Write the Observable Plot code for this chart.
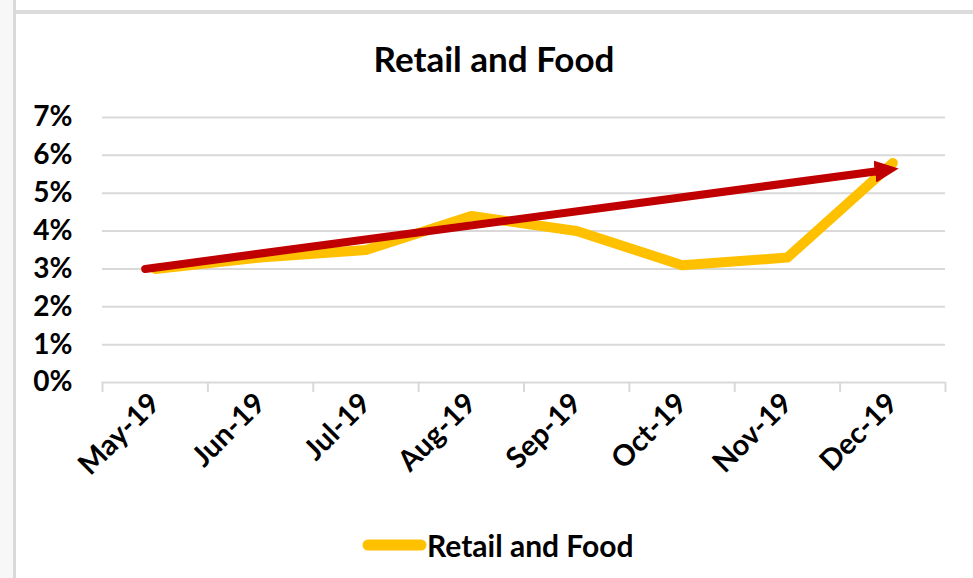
<!DOCTYPE html>
<html><head><meta charset="utf-8">
<script src="https://cdn.jsdelivr.net/npm/d3@7"></script>
<script src="https://cdn.jsdelivr.net/npm/@observablehq/plot@0.6"></script>
<style>
body{margin:0;background:#fff;font-family:Lato,"Open Sans",sans-serif;}
#page{position:relative;width:973px;height:578px;overflow:hidden;background:#fff;}
#leftstrip{position:absolute;left:0;top:0;width:13px;height:578px;background:#f7f7f7;}
#leftline{position:absolute;left:13px;top:0;width:3px;height:578px;background:#d9d9d9;}
#topline{position:absolute;left:16px;top:10px;width:957px;height:4px;background:#dcdcdc;}
#title{position:absolute;left:15px;width:958px;top:38px;text-align:center;font-weight:700;font-size:35px;line-height:40px;color:#000;}
#chart{position:absolute;left:0;top:90px;}
#legend{position:absolute;left:362px;top:530px;height:30px;display:flex;align-items:center;font-weight:700;font-size:30px;line-height:30px;color:#000;}
</style></head>
<body>
<div id="page">
  <div id="leftstrip"></div><div id="leftline"></div><div id="topline"></div>
  <div id="title">Retail and Food</div>
  <div id="chart"></div>
  <div id="legend"><svg width="65" height="14"><line x1="6" y1="7" x2="59" y2="7" stroke="#FFC000" stroke-width="11" stroke-linecap="round"/></svg><span>Retail and Food</span></div>
</div>
<script>
const months = ["May-19","Jun-19","Jul-19","Aug-19","Sep-19","Oct-19","Nov-19","Dec-19"];
const retailFood = [3.0, 3.3, 3.5, 4.4, 4.0, 3.1, 3.3, 5.8];
const trendMonths = ["May-19","Dec-19"];
const trendValues = [3.0, 5.6];
const yTicks = [0,1,2,3,4,5,6,7];

const data = months.map((m,i)=>({i, month:m, v:retailFood[i]}));
const trend = trendMonths.map((m,k)=>({i:months.indexOf(m), v:trendValues[k]}));
const boundaries = d3.range(months.length+1).map(k=>k-0.5);

function arrowHead(color, context){
  return d3.create("svg:marker")
    .attr("viewBox","0 -11 24 22")
    .attr("markerUnits","userSpaceOnUse")
    .attr("markerWidth",24)
    .attr("markerHeight",22)
    .attr("refX",8)
    .attr("refY",0)
    .attr("orient","auto")
    .attr("fill",color)
    .attr("stroke","none")
    .call(m=>m.append("path").attr("d","M0,-11L24,0L0,11Z"))
    .node();
}

const chart = Plot.plot({
  width:973, height:402,
  marginLeft:102, marginRight:28, marginTop:27, marginBottom:110,
  x:{type:"linear", domain:[-0.5, months.length-0.5]},
  y:{domain:[0,7]},
  style:{fontFamily:"Lato, 'Open Sans', sans-serif", color:"#000", background:"transparent", overflow:"visible"},
  marks:[
    Plot.ruleY(yTicks, {stroke:"#d9d9d9", strokeWidth:2, strokeOpacity:1}),
    Plot.axisY({ticks:yTicks, tickSize:0, tickPadding:30, tickFormat:d=>d+"%", fontSize:28, fontWeight:700, label:null}),
    Plot.axisX({ticks:boundaries, tickSize:10, tickFormat:()=>"", stroke:"#d9d9d9", strokeWidth:2, label:null}),
    Plot.axisX({ticks:d3.range(months.length), tickSize:0, tickPadding:16, tickRotate:-45, tickFormat:i=>months[i], fontSize:29, fontWeight:700, label:null}),
    Plot.line(data, {x:"i", y:"v", stroke:"#FFC000", strokeWidth:10, strokeLinejoin:"round", strokeLinecap:"round"}),
    Plot.line(trend, {x:"i", y:"v", stroke:"#C00000", strokeWidth:8, dx:-10, markerEnd:arrowHead})
  ]
});
document.getElementById("chart").appendChild(chart);
</script>
</body></html>
